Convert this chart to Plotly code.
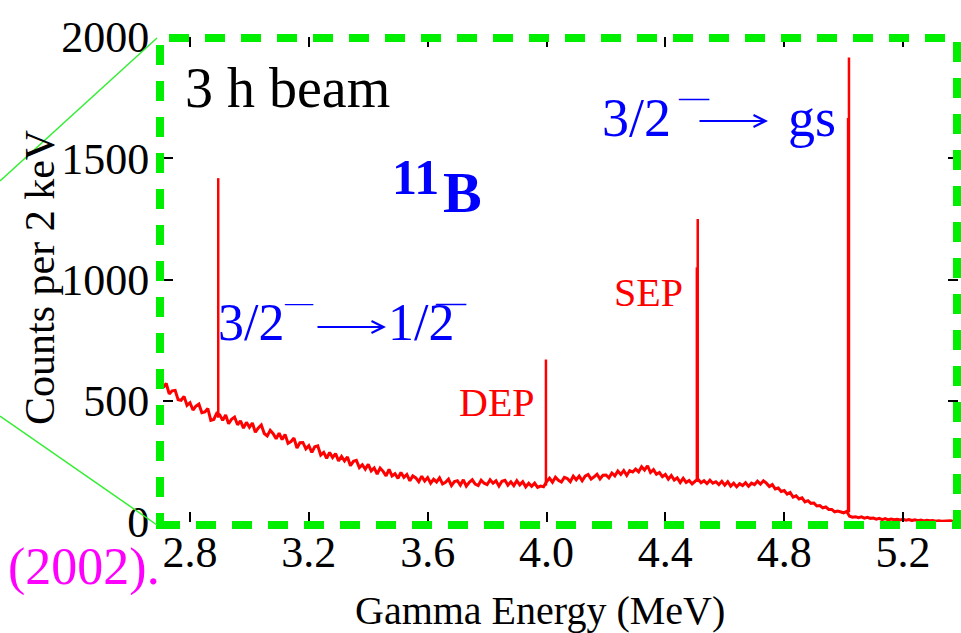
import plotly.graph_objects as go

# ---------------- data ----------------
bin_start = 2.70      # MeV, first bin
bin_width = 0.01      # MeV
counts = [
    587, 555, 571, 528, 541, 543, 504, 502, 518, 481,   # 2.70
    492, 462, 478, 486, 451, 454, 468, 419, 423, 448,   # 2.80
    442, 419, 441, 405, 424, 433, 401, 417, 387, 411,   # 2.90
    391, 408, 370, 388, 400, 365, 355, 378, 364, 343,   # 3.00
    366, 340, 361, 325, 332, 346, 305, 327, 328, 302,   # 3.10
    315, 287, 310, 314, 276, 287, 263, 287, 266, 282,   # 3.20
    252, 270, 252, 268, 232, 250, 254, 224, 236, 218,   # 3.30
    238, 211, 223, 198, 222, 209, 190, 217, 190, 199,   # 3.40
    180, 204, 184, 196, 170, 190, 182, 166, 189, 169,   # 3.50
    183, 160, 176, 165, 182, 157, 164, 177, 150, 167,   # 3.60
    170, 152, 174, 148, 164, 174, 156, 150, 172, 160,   # 3.70
    154, 174, 160, 170, 148, 168, 172, 152, 166, 150,   # 3.80
    170, 153, 166, 145, 160, 147, 160, 143, 148, 145,   # 3.90
    166, 181, 164, 185, 172, 165, 184, 179, 166, 189,   # 4.00
    174, 189, 170, 189, 196, 177, 186, 197, 178, 193,   # 4.10
    194, 182, 202, 190, 210, 196, 212, 192, 212, 206,   # 4.20
    218, 207, 228, 214, 232, 204, 216, 197, 204, 187,   # 4.30
    196, 177, 192, 173, 182, 163, 180, 163, 171, 157,   # 4.40
    168, 176, 162, 170, 158, 172, 160, 166, 154, 168,   # 4.50
    152, 166, 148, 160, 145, 158, 150, 162, 147, 160,   # 4.60
    154, 168, 156, 170, 160, 146, 154, 136, 140, 126,   # 4.70
    130, 115, 122, 103, 108, 95, 100, 83, 88, 77,       # 4.80
    78, 66, 68, 58, 62, 52, 52, 42, 45, 40,             # 4.90
    38, 44, 24, 20, 22, 18, 21, 16, 19, 15,             # 5.00
    16, 12, 15, 10, 14, 9, 12, 9, 11, 8,                # 5.10
    12, 7, 10, 6, 9, 5, 8, 4, 7, 5,                     # 5.20
    6, 3, 5, 3, 4, 2, 5, 2, 3,                          # 5.30
]
energy = [round(bin_start + bin_width * i, 3) for i in range(len(counts))]

# narrow photo-peaks (energy, foot, top)
peak_energy = [2.895, 3.998, 4.506, 4.509, 5.015, 5.018]
peak_foot   = [430, 150, 165, 165, 40, 40]
peak_top    = [1418, 670, 1050, 1250, 1666, 1915]

x_tickvals = [2.8, 3.2, 3.6, 4.0, 4.4, 4.8, 5.2]
x_ticktext = ["2.8", "3.2", "3.6", "4.0", "4.4", "4.8", "5.2"]
y_tickvals = [0, 500, 1000, 1500, 2000]
y_ticktext = ["0", "500", "1000", "1500", "2000"]

# ---------------- layout geometry ----------------
W, H = 961, 633
L, R, T, B = 163, 958, 37, 522          # plot-area pixel box
X_RANGE = [2.8 - 27 / 297.1, 2.8 + 768 / 297.1]
Y_RANGE = [0, 2000]


def px(x):
    return (x - L) / (R - L)


def py(y):
    return (B - y) / (B - T)


SERIF = "Liberation Serif"
RED = "#ff0000"
BLUE = "#0000ff"
GREEN = "#00ee00"

fig = go.Figure()

fig.add_trace(go.Scatter(
    x=energy, y=counts, mode="lines",
    line=dict(color=RED, width=3),
    hoverinfo="skip",
))

sx, sy = [], []
for e, f, t in zip(peak_energy, peak_foot, peak_top):
    sx += [e, e, None]
    sy += [f, t, None]
fig.add_trace(go.Scatter(
    x=sx, y=sy, mode="lines",
    line=dict(color=RED, width=2.5),
    hoverinfo="skip",
))

axis_common = dict(
    ticks="inside", ticklen=10, tickwidth=1.5, tickcolor="black",
    showgrid=False, zeroline=False, showline=True,
    linecolor="rgba(0,0,0,0)", mirror="ticks",
    tickfont=dict(family=SERIF, size=44, color="black"),
)

fig.update_layout(
    width=W, height=H,
    margin=dict(l=L, r=W - R, t=T, b=H - B, pad=0),
    paper_bgcolor="white", plot_bgcolor="white",
    showlegend=False,
    font=dict(family=SERIF),
    xaxis=dict(range=X_RANGE, tickvals=x_tickvals, ticktext=x_ticktext,
               ticklabelstandoff=-9, **axis_common),
    yaxis=dict(range=Y_RANGE, tickvals=y_tickvals, ticktext=y_ticktext,
               ticklabelstandoff=4, **axis_common),
)

shapes = [
    dict(type="rect", xref="paper", yref="paper",
         x0=px(160), x1=px(957), y0=py(525), y1=py(38),
         line=dict(color=GREEN, width=8, dash="20px,16px"), layer="above"),
    dict(type="line", xref="paper", yref="paper",
         x0=px(0), y0=py(181), x1=px(157), y1=py(38),
         line=dict(color="#33ee33", width=1.5)),
    dict(type="line", xref="paper", yref="paper",
         x0=px(0), y0=py(416), x1=px(157), y1=py(525),
         line=dict(color="#33ee33", width=1.5)),
]
fig.update_layout(shapes=shapes)


def ann(text, x, y, size, color, xanchor="left", angle=0):
    return dict(text=text, xref="paper", yref="paper", x=px(x), y=py(y),
                xanchor=xanchor, yanchor="middle", showarrow=False,
                textangle=angle,
                font=dict(family=SERIF, size=size, color=color))


def arrow(x_tail, x_head, y, color):
    return dict(text="", xref="paper", yref="paper", x=px(x_head), y=py(y),
                ax=x_tail - x_head, ay=0, showarrow=True,
                arrowhead=5, arrowsize=1.3, arrowwidth=1.8,
                arrowcolor=color, standoff=0, startstandoff=0)


annotations = [
    ann("3 h beam", 183, 88, 56, "black"),
    ann("<b>11</b>", 390, 177, 50, BLUE),
    ann("<b>B</b>", 441, 192, 58, BLUE),
    # 3/2- -> gs
    ann("3/2", 600, 118, 54, BLUE),
    ann("—", 676, 96, 30, BLUE),
    arrow(698, 768, 121, BLUE),
    ann("gs", 786, 118, 54, BLUE),
    # 3/2- -> 1/2-
    ann("3/2", 216, 322, 52, BLUE),
    ann("—", 282, 301, 28, BLUE),
    arrow(316, 386, 327, BLUE),
    ann("1/2", 386, 322, 52, BLUE),
    ann("—", 433, 301, 30, BLUE),
    ann("SEP", 612, 292, 40, RED),
    ann("DEP", 457, 402, 40, RED),
    ann("(2002).", 162, 567, 52, "#ff00ff", xanchor="right"),
    ann("Gamma Energy (MeV)", 540, 610, 40, "black", xanchor="center"),
    ann("Counts per 2 keV", 40, 278, 42, "black", xanchor="center", angle=-90),
]
fig.update_layout(annotations=annotations)

fig.write_html("out.html")
